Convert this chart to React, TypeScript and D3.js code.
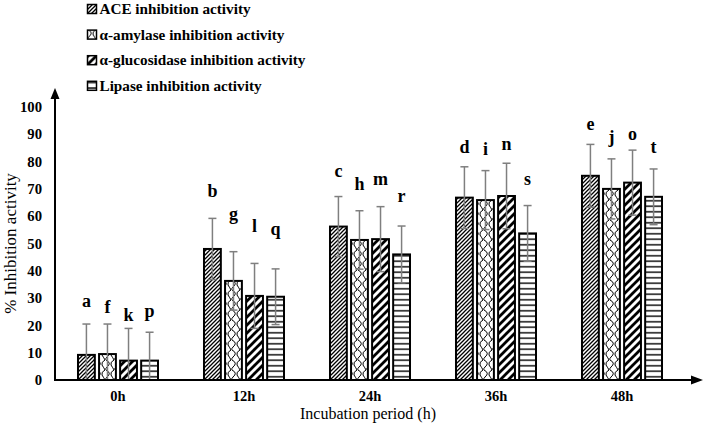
import React, { useEffect, useRef } from 'react';
import * as d3 from 'd3';

const periods = ['0h', '12h', '24h', '36h', '48h'];
const seriesNames = [
  'ACE inhibition activity',
  'α-amylase inhibition activity',
  'α-glucosidase inhibition activity',
  'Lipase inhibition activity',
];
const patternIds = ['pat-ace', 'pat-amy', 'pat-glu', 'pat-lip'];

const aceValues = [9.2, 48.0, 56.2, 66.8, 74.8];
const amylaseValues = [9.5, 36.3, 51.3, 65.9, 70.0];
const glucosidaseValues = [7.1, 30.8, 51.6, 67.4, 72.3];
const lipaseValues = [7.1, 30.5, 46.0, 53.7, 67.1];

const aceErr = [11.3, 11.2, 11.0, 11.3, 11.5];
const amylaseErr = [11.0, 10.7, 10.7, 10.8, 11.0];
const glucosidaseErr = [11.8, 11.9, 11.9, 12.0, 11.9];
const lipaseErr = [10.4, 10.2, 10.4, 10.2, 10.2];

// significance letters and where their baseline sits (in % units)
const aceLetters = ['a', 'b', 'c', 'd', 'e'];
const amylaseLetters = ['f', 'g', 'h', 'i', 'j'];
const glucosidaseLetters = ['k', 'l', 'm', 'n', 'o'];
const lipaseLetters = ['p', 'q', 'r', 's', 't'];
const aceLetterY = [26.7, 67, 74.5, 83.0, 91.6];
const amylaseLetterY = [24.5, 58.6, 69.6, 82.4, 86.7];
const glucosidaseLetterY = [21.6, 54.3, 71.4, 84.2, 87.9];
const lipaseLetterY = [23.1, 53.1, 65.3, 71.4, 83.0];

const yTicks = [0, 10, 20, 30, 40, 50, 60, 70, 80, 90, 100];

const FONT = "'Liberation Serif', Tinos, 'Times New Roman', Times, 'DejaVu Serif', serif";

export default function App() {
  const svgRef = useRef<SVGSVGElement>(null);

  useEffect(() => {
    if (!svgRef.current) return;
    const width = 706;
    const height = 428;

    const svg = d3.select(svgRef.current);
    svg.selectAll('*').remove();
    svg.attr('width', width).attr('height', height)
      .style('font-family', FONT);

    const values = [aceValues, amylaseValues, glucosidaseValues, lipaseValues];
    const errs = [aceErr, amylaseErr, glucosidaseErr, lipaseErr];
    const letters = [aceLetters, amylaseLetters, glucosidaseLetters, lipaseLetters];
    const letterY = [aceLetterY, amylaseLetterY, glucosidaseLetterY, lipaseLetterY];

    // Patterns
    const defs = svg.append('defs');

    const ace = defs.append('pattern')
      .attr('id', patternIds[0])
      .attr('patternUnits', 'userSpaceOnUse')
      .attr('width', 4).attr('height', 4);
    ace.append('rect').attr('width', 4).attr('height', 4).attr('fill', '#fff');
    ace.append('path')
      .attr('d', 'M-1,1 L1,-1 M0,4 L4,0 M3,5 L5,3')
      .attr('stroke', '#000').attr('stroke-width', 1.3);

    // scalloped arcs, roughly like the reference fill
    const amy = defs.append('pattern')
      .attr('id', patternIds[1])
      .attr('patternUnits', 'userSpaceOnUse')
      .attr('width', 9).attr('height', 10);
    amy.append('rect').attr('width', 9).attr('height', 10).attr('fill', '#fff');
    amy.append('path')
      .attr('d', 'M1,0 Q7,3 2,7 Q0,9 1,10 M9,0 Q5,2 6,5 Q8,8 9,10')
      .attr('fill', 'none')
      .attr('stroke', '#000').attr('stroke-width', 1);

    const glu = defs.append('pattern')
      .attr('id', patternIds[2])
      .attr('patternUnits', 'userSpaceOnUse')
      .attr('width', 8).attr('height', 8);
    glu.append('rect').attr('width', 8).attr('height', 8).attr('fill', '#fff');
    glu.append('path')
      .attr('d', 'M-2,2 L2,-2 M0,8 L8,0 M6,10 L10,6')
      .attr('stroke', '#000').attr('stroke-width', 2.8);

    const lip = defs.append('pattern')
      .attr('id', patternIds[3])
      .attr('patternUnits', 'userSpaceOnUse')
      .attr('width', 6).attr('height', 5.5);
    lip.append('rect').attr('width', 6).attr('height', 5.5).attr('fill', '#fff');
    lip.append('line')
      .attr('x1', 0).attr('x2', 6).attr('y1', 2.75).attr('y2', 2.75)
      .attr('stroke', '#000').attr('stroke-width', 1.4);

    // Scales
    const x0 = d3.scaleBand<string>()
      .domain(periods)
      .range([55, 685])
      .paddingInner(0.365)
      .paddingOuter(0.1825);

    const x1 = d3.scaleBand<number>()
      .domain(d3.range(seriesNames.length))
      .range([0, x0.bandwidth()])
      .paddingInner(0.2);

    const y = d3.scaleLinear().domain([0, 100]).range([380, 107]);

    // Bars
    const groups = svg.append('g')
      .selectAll('g')
      .data(periods)
      .join('g')
      .attr('transform', d => `translate(${x0(d)},0)`);

    seriesNames.forEach((_, si) => {
      groups.append('rect')
        .attr('x', x1(si)!)
        .attr('y', (_d, pi) => y(values[si][pi]))
        .attr('width', x1.bandwidth())
        .attr('height', (_d, pi) => y(0) - y(values[si][pi]))
        .attr('fill', `url(#${patternIds[si]})`)
        .attr('stroke', '#000')
        .attr('stroke-width', 2);
    });

    // Error bars
    seriesNames.forEach((_, si) => {
      const cx = x1(si)! + x1.bandwidth() / 2;
      const eb = groups.append('g').attr('stroke', '#7f7f7f').attr('stroke-width', 1.5);
      eb.append('line')
        .attr('x1', cx).attr('x2', cx)
        .attr('y1', (_d, pi) => y(values[si][pi] + errs[si][pi]))
        .attr('y2', (_d, pi) => y(Math.max(0, values[si][pi] - errs[si][pi])));
      eb.append('line')
        .attr('x1', cx - 4).attr('x2', cx + 4)
        .attr('y1', (_d, pi) => y(values[si][pi] + errs[si][pi]))
        .attr('y2', (_d, pi) => y(values[si][pi] + errs[si][pi]));
      eb.append('line')
        .attr('x1', cx - 4).attr('x2', cx + 4)
        .attr('y1', (_d, pi) => y(values[si][pi] - errs[si][pi]))
        .attr('y2', (_d, pi) => y(values[si][pi] - errs[si][pi]))
        .attr('display', (_d, pi) => values[si][pi] - errs[si][pi] < 0 ? 'none' : null);
    });

    // Letters
    seriesNames.forEach((_, si) => {
      const cx = x1(si)! + x1.bandwidth() / 2;
      groups.append('text')
        .attr('x', cx)
        .attr('y', (_d, pi) => y(letterY[si][pi]))
        .attr('text-anchor', 'middle')
        .attr('font-weight', 'bold')
        .attr('font-size', '18px')
        .text((_d, pi) => letters[si][pi]);
    });

    // Axes
    svg.append('line')
      .attr('x1', 55).attr('x2', 692)
      .attr('y1', y(0)).attr('y2', y(0))
      .attr('stroke', '#000').attr('stroke-width', 2);
    svg.append('path')
      .attr('d', `M703,${y(0)} L691,${y(0) - 4.5} L691,${y(0) + 4.5} Z`)
      .attr('fill', '#000');

    svg.append('line')
      .attr('x1', 55).attr('x2', 55)
      .attr('y1', y(0) + 1).attr('y2', 97)
      .attr('stroke', '#000').attr('stroke-width', 2);
    svg.append('path')
      .attr('d', `M55,88 L50.5,99 L59.5,99 Z`)
      .attr('fill', '#000');

    svg.append('g')
      .selectAll('text')
      .data(yTicks)
      .join('text')
      .attr('x', 42)
      .attr('y', d => y(d))
      .attr('dy', '0.35em')
      .attr('text-anchor', 'end')
      .attr('font-weight', 'bold')
      .attr('font-size', '14.7px')
      .text(d => d);

    svg.append('g')
      .selectAll('text')
      .data(periods)
      .join('text')
      .attr('x', d => x0(d)! + x0.bandwidth() / 2)
      .attr('y', 401)
      .attr('text-anchor', 'middle')
      .attr('font-weight', 'bold')
      .attr('font-size', '14.5px')
      .text(d => d);

    svg.append('text')
      .attr('x', 368)
      .attr('y', 419)
      .attr('text-anchor', 'middle')
      .attr('font-size', '16px')
      .text('Incubation period (h)');

    svg.append('text')
      .attr('transform', `translate(16,${(y(0) + y(100)) / 2}) rotate(-90)`)
      .attr('text-anchor', 'middle')
      .attr('font-size', '17px')
      .text('% Inhibition activity');

    // Legend
    const legend = svg.append('g')
      .selectAll('g')
      .data(seriesNames)
      .join('g')
      .attr('transform', (_d, i) => `translate(87,${14 + i * 25.6})`);

    legend.append('rect')
      .attr('x', 0.5).attr('y', -9.5)
      .attr('width', 9).attr('height', 9)
      .attr('fill', (_d, i) => `url(#${patternIds[i]})`)
      .attr('stroke', '#000')
      .attr('stroke-width', 1.5);

    legend.append('text')
      .attr('x', 12.5)
      .attr('y', 0)
      .attr('font-weight', 'bold')
      .attr('font-size', '15.2px')
      .text(d => d);
  }, []);

  return (
    <div style={{ position: 'absolute', left: 0, top: 0, background: '#fff' }}>
      <svg ref={svgRef} style={{ display: 'block' }}></svg>
    </div>
  );
}
